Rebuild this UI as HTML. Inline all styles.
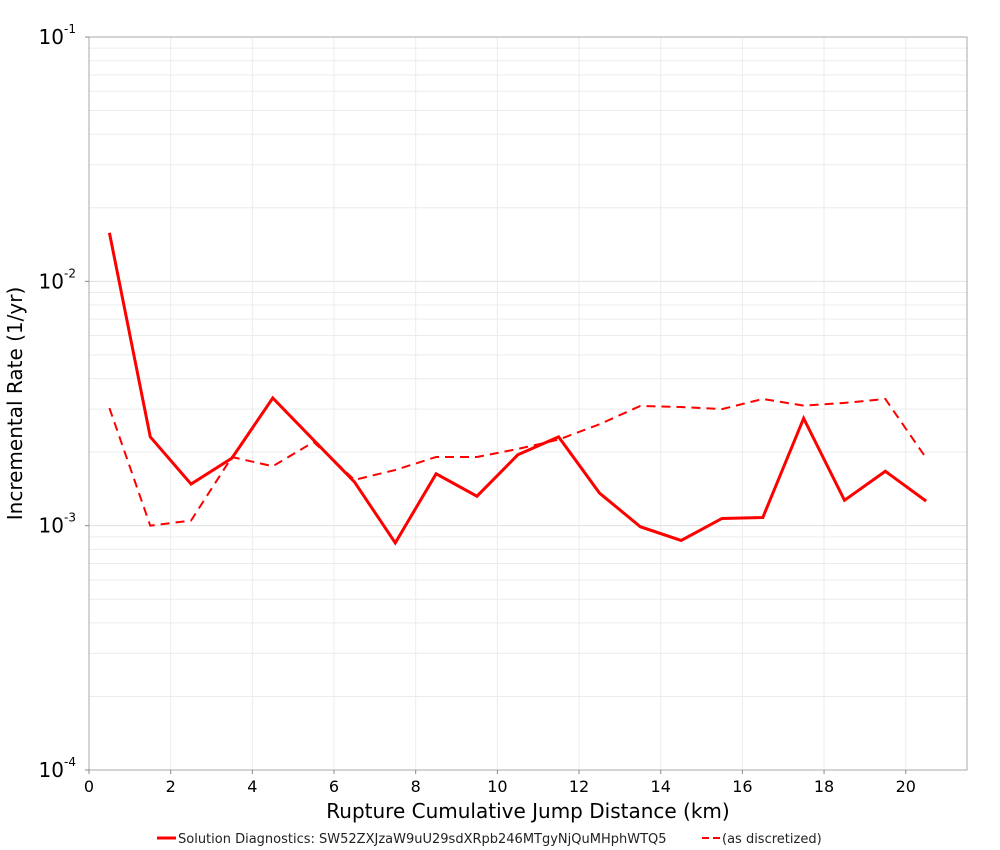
<!DOCTYPE html>
<html><head><meta charset="utf-8"><style>
html,body{margin:0;padding:0;background:#fff;}
svg{display:block;font-family:"DejaVu Sans","Liberation Sans",sans-serif;}
</style></head><body>
<svg id="chart" width="1000" height="850" xmlns="http://www.w3.org/2000/svg"></svg>
<script>
const xCats = [0.5,1.5,2.5,3.5,4.5,5.5,6.5,7.5,8.5,9.5,10.5,11.5,12.5,13.5,14.5,15.5,16.5,17.5,18.5,19.5,20.5];
const solidVals = [0.0158,0.00231,0.00148,0.00189,0.00333,0.00224,0.00151,0.00085,0.00163,0.00132,0.00195,0.00231,0.00136,0.00099,0.00087,0.00107,0.00108,0.00275,0.00127,0.00167,0.00126];
const dashedVals = [0.00303,0.00100,0.00105,0.00191,0.00175,0.0022,0.00154,0.00169,0.00191,0.00191,0.00206,0.00225,0.0026,0.00309,0.00306,0.00300,0.0033,0.00310,0.00318,0.0033,0.00189];
const xTicks = [0,2,4,6,8,10,12,14,16,18,20];
const yExps = [-1,-2,-3,-4];

const NS="http://www.w3.org/2000/svg";
const svg=document.getElementById('chart');
const L=89,R=967,T=37,B=770,xMax=21.5,logTop=-1,logBot=-4;
const sx=v=>L+(v/xMax)*(R-L);
const sy=v=>T+(logTop-Math.log10(v))/(logTop-logBot)*(B-T);
function mk(tag,attrs,parent){const e=document.createElementNS(NS,tag);for(const k in attrs)e.setAttribute(k,attrs[k]);(parent||svg).appendChild(e);return e;}

const grid=mk('g',{});


for(let d=-4;d<-1;d++){for(let m=1;m<=9;m++){const v=m*Math.pow(10,d);const y=sy(v);
 mk('line',{x1:L,x2:R,y1:y,y2:y,stroke:m===1?'#e0e0e0':'#ececec','stroke-width':1},grid);}}
xTicks.forEach(t=>{const x=sx(t);mk('line',{x1:x,x2:x,y1:T,y2:B,stroke:'#ececec','stroke-width':1},grid);});

const frame=mk('rect',{x:L,y:T,width:R-L,height:B-T,fill:'none',stroke:'#aaaaaa','stroke-width':1});



const xa=mk('g',{});


xTicks.forEach(t=>{const x=sx(t);mk('line',{x1:x,x2:x,y1:B,y2:B+4,stroke:'#888'},xa);
 const tx=mk('text',{x:x,y:B+22,'text-anchor':'middle','font-size':16,fill:'#000'},xa);tx.textContent=t;
 
 });
const xt=mk('text',{x:528,y:B+48,'text-anchor':'middle','font-size':20,fill:'#000'});
xt.textContent='Rupture Cumulative Jump Distance (km)';



const ya=mk('g',{});


yExps.forEach(e=>{const y=sy(Math.pow(10,e));mk('line',{x1:L-4,x2:L,y1:y,y2:y,stroke:'#888'},ya);
 const tx=mk('text',{x:L-25,y:y+7,'text-anchor':'end','font-size':20,fill:'#000'},ya);tx.textContent='10';
 
 
 const sp=mk('text',{x:L-25,y:y-4,'text-anchor':'start','font-size':12,fill:'#000'},ya);sp.textContent=String(e);});
const yt=mk('text',{x:22,y:(T+B)/2,'text-anchor':'middle','font-size':20,fill:'#000',transform:`rotate(-90 22 ${(T+B)/2})`});
yt.textContent='Incremental Rate (1/yr)';



function line(vals,dash,name){const p=mk('polyline',{points:xCats.map((x,i)=>sx(x)+','+sy(vals[i])).join(' '),fill:'none',stroke:'#ff0000','stroke-width':dash?2:3,'stroke-dasharray':dash?'9,6':'none','stroke-linejoin':'miter'});
 
 }
line(dashedVals,true,'discretized-series-line');
line(solidVals,false,'solution-series-line');

const lg=mk('g',{});


mk('line',{x1:157,x2:176,y1:838,y2:838,stroke:'#ff0000','stroke-width':3},lg);
const l1=mk('text',{x:178,y:843,'font-size':13,fill:'#222'},lg);l1.textContent='Solution Diagnostics: SW52ZXJzaW9uU29sdXRpb246MTgyNjQuMHphWTQ5';


mk('line',{x1:702,x2:720,y1:838,y2:838,stroke:'#ff0000','stroke-width':2,'stroke-dasharray':'7,4'},lg);
const l2=mk('text',{x:722,y:843,'font-size':13,fill:'#222'},lg);l2.textContent='(as discretized)';


</script>
</body></html>
